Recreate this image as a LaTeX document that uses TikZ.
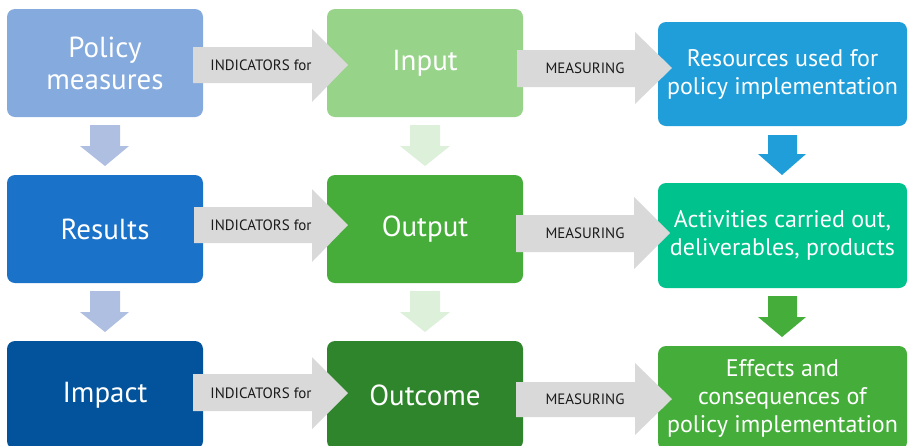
\documentclass[tikz,border=0pt]{standalone}
\usepackage{fontspec}
\setmainfont{PT Sans}
\usetikzlibrary{calc}
\definecolor{cPolicy}{HTML}{85AADD}
\definecolor{cResults}{HTML}{1A72C9}
\definecolor{cImpact}{HTML}{02539C}
\definecolor{cInput}{HTML}{98D38A}
\definecolor{cOutput}{HTML}{46AD3B}
\definecolor{cOutcome}{HTML}{2F852B}
\definecolor{cRes}{HTML}{1F9ED9}
\definecolor{cAct}{HTML}{00C28C}
\definecolor{cEff}{HTML}{45AE3A}
\definecolor{cGray}{HTML}{D9D9D9}
\definecolor{cDownL}{HTML}{AEBFE2}
\definecolor{cDownM}{HTML}{DCF0DA}
\definecolor{cTxt}{HTML}{1A1A1A}
\tikzset{
  box/.style={rounded corners=8pt, inner sep=0pt, align=center, text=white},
  bigbox/.style={box, minimum width=196pt, minimum height=108pt, font=\fontsize{29}{32}\selectfont},
  rbox/.style={box, minimum width=249pt, minimum height=104pt, font=\fontsize{24}{28}\selectfont},
  glabel/.style={text=cTxt, inner sep=0pt, font=\fontsize{15}{17}\selectfont},
}
\begin{document}
\begin{tikzpicture}[x=1pt,y=-1pt]
\useasboundingbox (0,0) rectangle (909,445);
\begin{scope}
\clip (0,0) rectangle (909,445);
% boxes
\node[bigbox, fill=cPolicy] (pm) at (105,63) {Policy\\measures};
\node[bigbox, fill=cResults] (res) at (105,229) {Results};
\node[bigbox, fill=cImpact] (imp) at (105,395) {Impact};
\node[bigbox, fill=cInput] (inp) at (425,63) {Input};
\node[bigbox, fill=cOutput] (out) at (425,229) {Output};
\node[bigbox, fill=cOutcome] (outc) at (425,395) {Outcome};
\node[rbox, fill=cRes] (rsc) at (782.5,74) {Resources used for\\policy implementation};
\node[rbox, fill=cAct, minimum height=105pt] (act) at (782.5,235.5) {Activities carried out,\\deliverables, products};
\node[rbox, fill=cEff] (eff) at (782.5,398) {Effects and\\consequences of\\policy implementation};
% gray block arrows (INDICATORS for)
\fill[cGray] (193,47) -- (312,47) -- (312,29) -- (348,65) -- (312,102) -- (312,83) -- (193,83) -- cycle;
\fill[cGray] (194,207) -- (312,207) -- (312,189) -- (348,225) -- (312,262) -- (312,243) -- (194,243) -- cycle;
\fill[cGray] (193,374) -- (312,374) -- (312,357) -- (348,393) -- (312,429) -- (312,411) -- (193,411) -- cycle;
\node[glabel] (i1) at (261,65) {INDICATORS for};
\node[glabel] (i2) at (261,225) {INDICATORS for};
\node[glabel] (i3) at (261,393) {INDICATORS for};
% gray block arrows (MEASURING)
\fill[cGray] (517,50) -- (635,50) -- (635,32) -- (672,68) -- (635,104) -- (635,87) -- (517,87) -- cycle;
\fill[cGray] (516,215) -- (634,215) -- (634,197) -- (670,233) -- (634,269) -- (634,252) -- (516,252) -- cycle;
\fill[cGray] (516,382) -- (635,382) -- (635,363) -- (672,399) -- (635,435) -- (635,417) -- (516,417) -- cycle;
\node[glabel] (m1) at (585,68) {MEASURING};
\node[glabel] (m2) at (585,233) {MEASURING};
\node[glabel] (m3) at (585,399) {MEASURING};
% down arrows
\fill[cDownL] (90,125) -- (120,125) -- (120,146) -- (129,146) -- (105,166) -- (80,146) -- (90,146) -- cycle;
\fill[cDownL] (90,291) -- (120,291) -- (120,312) -- (129,312) -- (105,332) -- (80,312) -- (90,312) -- cycle;
\fill[cDownM] (410,125) -- (440,125) -- (440,146) -- (450,146) -- (425,166) -- (400,146) -- (410,146) -- cycle;
\fill[cDownM] (410,291) -- (440,291) -- (440,312) -- (450,312) -- (425,332) -- (400,312) -- (410,312) -- cycle;
\fill[cRes] (768,135) -- (797,135) -- (797,154) -- (806,154) -- (782,175) -- (758,154) -- (768,154) -- cycle;
\fill[cEff] (768,296) -- (797,296) -- (797,317) -- (806,317) -- (782,337) -- (758,317) -- (768,317) -- cycle;
\end{scope}
\end{tikzpicture}
\end{document}
